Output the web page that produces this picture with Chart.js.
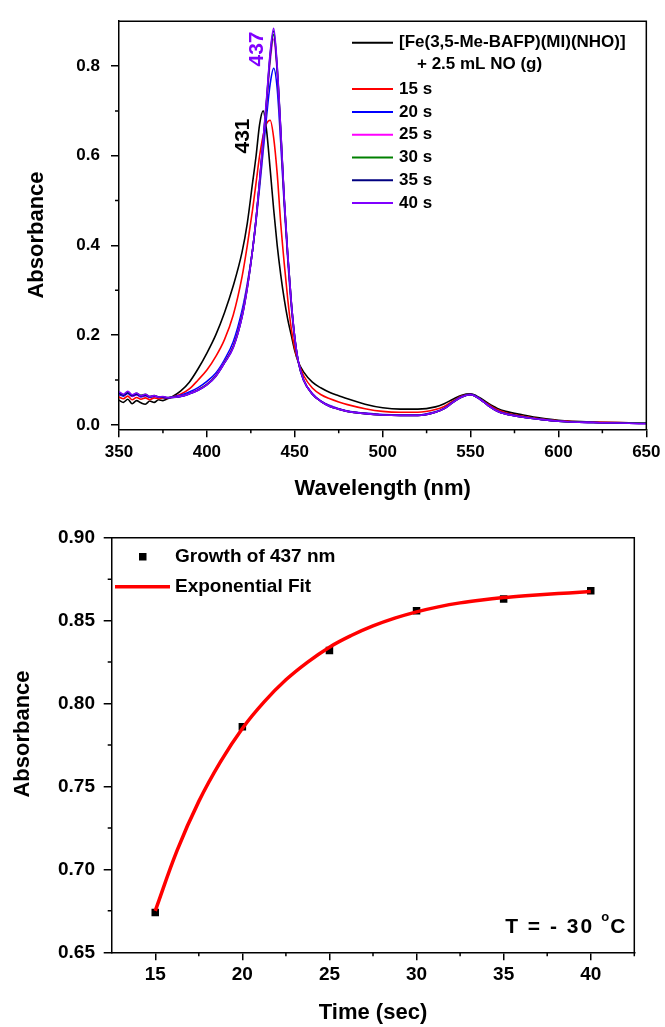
<!DOCTYPE html>
<html>
<head>
<meta charset="utf-8">
<script src="https://cdn.jsdelivr.net/npm/chart.js@4.4.1/dist/chart.umd.min.js"></script>
<style>
  html, body { margin: 0; padding: 0; background: #fff; }
  #wrap { position: relative; width: 665px; height: 1027px; }
  canvas { position: absolute; left: 0; }
  #spectra { top: 0; }
  #kinetics { top: 510px; }
</style>
</head>
<body>
<div id="wrap">
  <canvas id="spectra" width="665" height="510"></canvas>
  <canvas id="kinetics" width="665" height="517"></canvas>
</div>
<script>
// ---------- top panel: UV-vis spectra ----------
const wavelengths = [350, 352.5, 355, 357.5, 360, 362.5, 365, 367.5, 370, 372.5, 375, 377.5, 380,
  385, 390, 395, 400, 405, 410, 415, 420, 423, 426, 428, 430, 432, 434, 436, 438, 440, 442, 444, 446,
  448, 450, 452, 455, 460, 465, 470, 475, 480, 490, 500, 510, 520, 530, 535, 540, 545, 550, 555, 560,
  565, 570, 580, 590, 600, 620, 650];

const absInitial = [0.055, 0.050, 0.057, 0.047, 0.054, 0.049, 0.046, 0.053, 0.050, 0.056, 0.054, 0.058, 0.062,
  0.075, 0.095, 0.125, 0.160, 0.200, 0.250, 0.310, 0.385, 0.450, 0.540, 0.600, 0.670, 0.700, 0.655, 0.570, 0.480,
  0.400, 0.335, 0.280, 0.235, 0.200, 0.165, 0.140, 0.118, 0.095, 0.082, 0.072, 0.065, 0.058, 0.046, 0.038, 0.035,
  0.035, 0.040, 0.047, 0.057, 0.066, 0.069, 0.061, 0.048, 0.037, 0.030, 0.022, 0.015, 0.010, 0.006, 0.004];
const abs15s = [0.062, 0.058, 0.064, 0.056, 0.061, 0.057, 0.060, 0.056, 0.060, 0.058, 0.060, 0.059, 0.062,
  0.068, 0.080, 0.100, 0.122, 0.152, 0.190, 0.245, 0.330, 0.400, 0.480, 0.540, 0.600, 0.645, 0.672, 0.679, 0.640,
  0.560, 0.450, 0.360, 0.280, 0.215, 0.170, 0.140, 0.110, 0.082, 0.067, 0.058, 0.051, 0.045, 0.036, 0.030, 0.028,
  0.028, 0.034, 0.041, 0.053, 0.064, 0.068, 0.059, 0.046, 0.034, 0.027, 0.019, 0.013, 0.009, 0.006, 0.004];
const abs20s = [0.068, 0.064, 0.070, 0.063, 0.067, 0.062, 0.065, 0.061, 0.064, 0.062, 0.061, 0.060, 0.062,
  0.066, 0.073, 0.083, 0.097, 0.115, 0.145, 0.185, 0.255, 0.315, 0.390, 0.455, 0.530, 0.610, 0.690, 0.760, 0.795,
  0.750, 0.630, 0.490, 0.370, 0.265, 0.190, 0.140, 0.100, 0.070, 0.053, 0.043, 0.036, 0.031, 0.026, 0.023, 0.022,
  0.022, 0.029, 0.037, 0.051, 0.063, 0.068, 0.059, 0.044, 0.032, 0.025, 0.018, 0.012, 0.008, 0.005, 0.003];
const abs25s = [0.070, 0.066, 0.072, 0.064, 0.068, 0.063, 0.066, 0.062, 0.064, 0.061, 0.062, 0.060, 0.061,
  0.064, 0.070, 0.079, 0.091, 0.110, 0.140, 0.176, 0.245, 0.310, 0.390, 0.458, 0.540, 0.625, 0.715, 0.810, 0.860,
  0.785, 0.650, 0.500, 0.375, 0.272, 0.193, 0.141, 0.100, 0.069, 0.052, 0.042, 0.035, 0.030, 0.025, 0.022, 0.021,
  0.021, 0.028, 0.036, 0.050, 0.062, 0.067, 0.058, 0.043, 0.031, 0.024, 0.017, 0.012, 0.008, 0.005, 0.003];
const abs30s = [0.072, 0.067, 0.073, 0.066, 0.070, 0.066, 0.068, 0.063, 0.065, 0.062, 0.062, 0.061, 0.061,
  0.063, 0.069, 0.078, 0.090, 0.109, 0.139, 0.174, 0.242, 0.307, 0.390, 0.459, 0.542, 0.630, 0.722, 0.820, 0.870,
  0.792, 0.655, 0.502, 0.378, 0.274, 0.194, 0.141, 0.100, 0.068, 0.052, 0.041, 0.035, 0.030, 0.025, 0.022, 0.021,
  0.021, 0.028, 0.036, 0.050, 0.062, 0.067, 0.058, 0.043, 0.031, 0.024, 0.017, 0.012, 0.008, 0.005, 0.004];
const abs35s = [0.070, 0.066, 0.071, 0.065, 0.068, 0.064, 0.066, 0.062, 0.064, 0.062, 0.062, 0.060, 0.061,
  0.063, 0.069, 0.077, 0.089, 0.108, 0.138, 0.173, 0.241, 0.306, 0.390, 0.460, 0.544, 0.633, 0.726, 0.825, 0.878,
  0.796, 0.658, 0.504, 0.379, 0.275, 0.195, 0.142, 0.100, 0.068, 0.052, 0.041, 0.035, 0.030, 0.025, 0.022, 0.021,
  0.021, 0.028, 0.036, 0.050, 0.062, 0.067, 0.058, 0.043, 0.031, 0.024, 0.017, 0.012, 0.008, 0.005, 0.003];
const abs40s = [0.074, 0.068, 0.075, 0.067, 0.071, 0.065, 0.068, 0.063, 0.065, 0.062, 0.063, 0.061, 0.061,
  0.063, 0.069, 0.077, 0.089, 0.108, 0.138, 0.172, 0.240, 0.305, 0.390, 0.460, 0.545, 0.635, 0.730, 0.830, 0.884,
  0.800, 0.660, 0.505, 0.380, 0.275, 0.195, 0.142, 0.100, 0.068, 0.052, 0.041, 0.035, 0.030, 0.025, 0.022, 0.021,
  0.021, 0.028, 0.036, 0.050, 0.062, 0.067, 0.058, 0.043, 0.031, 0.024, 0.017, 0.012, 0.008, 0.005, 0.003];

const seriesLabels = [['[Fe(3,5-Me-BAFP)(MI)(NHO)]', '+ 2.5 mL NO (g)'], ['15 s'], ['20 s'], ['25 s'], ['30 s'], ['35 s'], ['40 s']];
const seriesValues = [absInitial, abs15s, abs20s, abs25s, abs30s, abs35s, abs40s];
const seriesColors = ['#000000', '#ff0000', '#0000ff', '#ff00ff', '#008000', '#000080', '#8000ff'];

const specXTicks = [350, 400, 450, 500, 550, 600, 650];
const specXMinor = [375, 425, 475, 525, 575, 625];
const specYTicks = [0.0, 0.2, 0.4, 0.6, 0.8];
const specYMinor = [0.1, 0.3, 0.5, 0.7];
const peakLabels = [{ text: '437', x: 428.4, y: 0.838, color: '#8000ff' }, { text: '431', x: 420.5, y: 0.644, color: '#000000' }];

// ---------- bottom panel: kinetics ----------
const timePoints = [15, 20, 25, 30, 35, 40];
const growth437 = [0.674, 0.786, 0.832, 0.856, 0.863, 0.868];
const fitTimes = [15, 16.25, 17.5, 18.75, 20, 21.25, 22.5, 23.75, 25, 26.25, 27.5, 28.75, 30,
  31.25, 32.5, 33.75, 35, 36.25, 37.5, 38.75, 40];
const fitValues = [0.675, 0.7113, 0.741, 0.765, 0.785, 0.801, 0.8143, 0.825, 0.834, 0.841, 0.8468, 0.8515, 0.8553,
  0.8583, 0.8607, 0.8625, 0.8639, 0.865, 0.8659, 0.8667, 0.8675];

const kinXTicks = [15, 20, 25, 30, 35, 40];
const kinXMinor = [17.5, 22.5, 27.5, 32.5, 37.5, 42.5];
const kinYTicks = [0.65, 0.70, 0.75, 0.80, 0.85, 0.90];
const kinYMinor = [0.675, 0.725, 0.775, 0.825, 0.875];

const FONT = "'Liberation Sans', Arial, Helvetica, sans-serif";

function frameAndMinors(xMinor, yMinor) {
    return {
        id: 'frameAndMinors',
        afterDatasetsDraw(chart) {
            const { ctx, chartArea: a, scales: { x, y } } = chart;
            ctx.save();
            ctx.strokeStyle = '#000';
            ctx.lineWidth = 1.5;
            ctx.beginPath();
            ctx.moveTo(a.left, a.top);
            ctx.lineTo(a.right, a.top);
            ctx.lineTo(a.right, a.bottom);
            xMinor.forEach(v => {
                const px = x.getPixelForValue(v);
                ctx.moveTo(px, a.bottom);
                ctx.lineTo(px, a.bottom + 4);
            });
            yMinor.forEach(v => {
                const py = y.getPixelForValue(v);
                ctx.moveTo(a.left, py);
                ctx.lineTo(a.left - 4, py);
            });
            ctx.stroke();
            ctx.restore();
        }
    };
}

function yTitle(text, x, y) {
    return {
        id: 'yTitle',
        afterDraw(chart) {
            const ctx = chart.ctx;
            ctx.save();
            ctx.translate(x, y);
            ctx.rotate(-Math.PI / 2);
            ctx.font = `bold 22px ${FONT}`;
            ctx.fillStyle = '#000';
            ctx.textAlign = 'center';
            ctx.textBaseline = 'middle';
            ctx.fillText(text, 0, 0);
            ctx.restore();
        }
    };
}

function axisOpts(min, max, ticks, fmt, size, pad, fixedSize, title) {
    return {
        type: 'linear',
        min: min,
        max: max,
        afterBuildTicks: s => { s.ticks = ticks.map(v => ({ value: v })); },
        afterFit: s => {
            if (s.isHorizontal()) s.height = fixedSize; else s.width = fixedSize;
        },
        border: { display: true, color: '#000', width: 1.5 },
        grid: { drawOnChartArea: false, drawTicks: true, tickLength: 8, color: '#000', lineWidth: 1.5 },
        ticks: {
            color: '#000',
            padding: pad,
            maxRotation: 0,
            font: { family: FONT, size: size, weight: 'bold' },
            callback: fmt
        },
        title: title
    };
}

// ---------- spectra chart ----------
const spectraDatasets = seriesValues.map((vals, i) => ({
    label: seriesLabels[i].join(' '),
    data: wavelengths.map((w, j) => ({ x: w, y: vals[j] })),
    borderColor: seriesColors[i],
    borderWidth: 1.6,
    pointRadius: 0,
    cubicInterpolationMode: 'monotone',
    order: seriesValues.length - i
}));

const spectraLegend = {
    id: 'spectraLegend',
    afterDraw(chart) {
        const ctx = chart.ctx;
        const a = chart.chartArea;
        ctx.save();
        ctx.font = `bold 17px ${FONT}`;
        ctx.textBaseline = 'middle';
        ctx.textAlign = 'left';
        let rowY = a.top + 21.6;
        seriesLabels.forEach((lines, i) => {
            ctx.strokeStyle = seriesColors[i];
            ctx.lineWidth = 2;
            ctx.beginPath();
            ctx.moveTo(352, rowY);
            ctx.lineTo(393, rowY);
            ctx.stroke();
            ctx.fillStyle = '#000';
            ctx.fillText(lines[0], 399, rowY);
            if (lines[1]) {
                rowY += 22;
                ctx.fillText(lines[1], 417, rowY);
            }
            rowY += i === 0 ? 24.3 : 22.8;
        });
        // peak position labels
        const { x, y } = chart.scales;
        ctx.font = `bold 21px ${FONT}`;
        ctx.textAlign = 'center';
        peakLabels.forEach(p => {
            ctx.save();
            ctx.translate(x.getPixelForValue(p.x), y.getPixelForValue(p.y));
            ctx.rotate(-Math.PI / 2);
            ctx.fillStyle = p.color;
            ctx.fillText(p.text, 0, 0);
            ctx.restore();
        });
        ctx.restore();
    }
};

new Chart(document.getElementById('spectra'), {
    type: 'line',
    data: { datasets: spectraDatasets },
    options: {
        responsive: false,
        animation: false,
        events: [],
        layout: { padding: { top: 11.7, right: 18, left: 0, bottom: 0 } },
        plugins: { legend: { display: false }, tooltip: { enabled: false } },
        scales: {
            x: axisOpts(350, 650, specXTicks, v => String(v), 17, 4.5, 80.7,
                { display: true, text: 'Wavelength (nm)', color: '#000', padding: { top: 0, bottom: 7.8 },
                  font: { family: FONT, size: 22, weight: 'bold' } }),
            y: axisOpts(-0.01, 0.9, specYTicks, v => v.toFixed(1), 17, 11, 119, { display: false })
        }
    },
    plugins: [frameAndMinors(specXMinor, specYMinor), yTitle('Absorbance', 37, 235), spectraLegend]
});

// ---------- kinetics chart ----------
const kineticsExtras = {
    id: 'kineticsExtras',
    afterDraw(chart) {
        const ctx = chart.ctx;
        const a = chart.chartArea;
        ctx.save();
        // legend
        ctx.fillStyle = '#000';
        ctx.fillRect(139, a.top + 15.3, 7.5, 7.5);
        ctx.strokeStyle = '#ff0000';
        ctx.lineWidth = 3.5;
        ctx.beginPath();
        ctx.moveTo(115, a.top + 49);
        ctx.lineTo(170, a.top + 49);
        ctx.stroke();
        ctx.font = `bold 19px ${FONT}`;
        ctx.textBaseline = 'middle';
        ctx.fillText('Growth of 437 nm', 175, a.top + 19.5);
        ctx.fillText('Exponential Fit', 175, a.top + 49.5);
        // temperature note
        ctx.font = `bold 21px ${FONT}`;
        ctx.textBaseline = 'alphabetic';
        ctx.textAlign = 'right';
        ctx.fillText('C', a.right - 9, a.bottom - 19);
        const cw = ctx.measureText('C').width;
        ctx.font = `bold 13px ${FONT}`;
        ctx.fillText('o', a.right - 10 - cw, a.bottom - 31);
        ctx.font = `bold 21px ${FONT}`;
        ctx.letterSpacing = '2px';
        ctx.fillText('T = - 30', a.right - 9 - cw - 16, a.bottom - 19);
        ctx.restore();
    }
};

new Chart(document.getElementById('kinetics'), {
    type: 'scatter',
    data: {
        datasets: [
            {
                label: 'Growth of 437 nm',
                data: timePoints.map((t, i) => ({ x: t, y: growth437[i] })),
                pointStyle: 'rect',
                pointRadius: 5.3,
                backgroundColor: '#000',
                borderColor: '#000',
                borderWidth: 0,
                order: 2
            },
            {
                label: 'Exponential Fit',
                type: 'line',
                data: fitTimes.map((t, i) => ({ x: t, y: fitValues[i] })),
                borderColor: '#ff0000',
                borderWidth: 3.5,
                pointRadius: 0,
                tension: 0.4,
                order: 1
            }
        ]
    },
    options: {
        responsive: false,
        animation: false,
        events: [],
        layout: { padding: { top: 27.7, right: 30.7, left: 0, bottom: 0 } },
        plugins: { legend: { display: false }, tooltip: { enabled: false } },
        scales: {
            x: axisOpts(12.5, 42.5, kinXTicks, v => String(v), 19, 3.3, 74.7,
                { display: true, text: 'Time (sec)', color: '#000', padding: { top: 0, bottom: 0.5 },
                  font: { family: FONT, size: 22, weight: 'bold' } }),
            y: axisOpts(0.65, 0.9, kinYTicks, v => v.toFixed(2), 19, 8.7, 111.7, { display: false })
        }
    },
    plugins: [frameAndMinors(kinXMinor, kinYMinor), yTitle('Absorbance', 23, 224), kineticsExtras]
});
</script>
</body>
</html>
